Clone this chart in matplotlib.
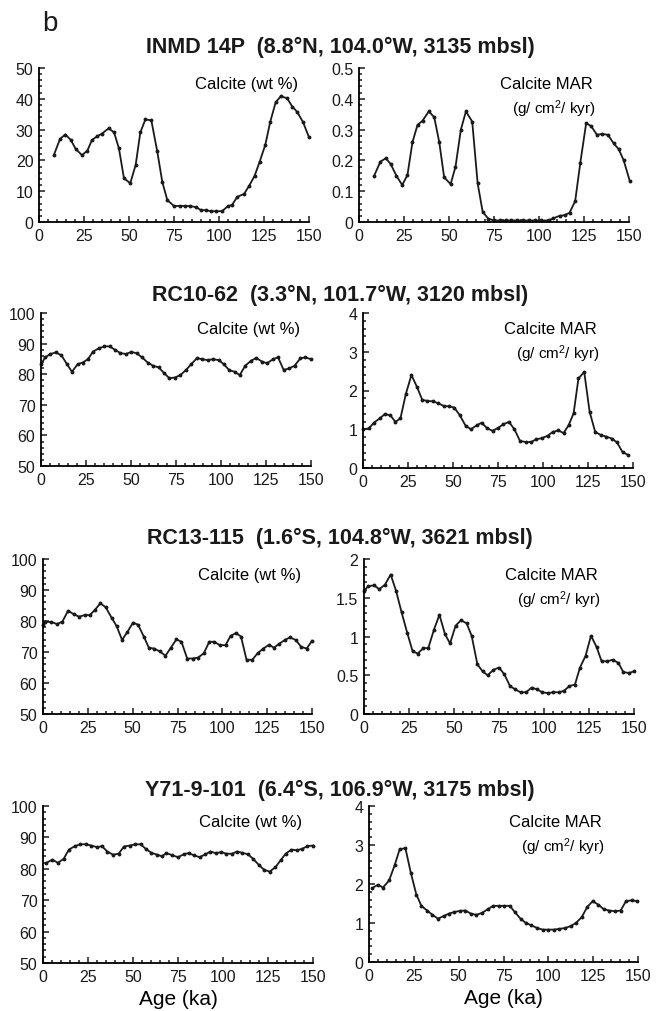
import numpy as np
import matplotlib.pyplot as plt
from matplotlib.ticker import MultipleLocator, FormatStrFormatter

plt.rcParams['font.family'] = ['Liberation Sans', 'DejaVu Sans']
plt.rcParams['mathtext.default'] = 'regular'

# ---- data: age (ka) and values ----
inmd_wt_age = [8.3, 11.7, 14.6, 17.6, 20.4, 23.9, 26.9, 29.4, 32.2, 35, 38.7, 41.7, 44.4, 47.2, 50.7,
               53.7, 56.3, 59.1, 62.4, 65.7, 68.5, 71.3, 75, 78.1, 80.9, 83.7, 87.4, 89.8, 93, 95.7,
               98.5, 101.7, 105, 107.2, 110.2, 113.9, 116.7, 119.8, 122.6, 125.7, 128.5, 131.5,
               134.3, 137.8, 140.7, 143.5, 146.7, 150]
inmd_wt = [21.8, 27, 28.4, 26.7, 23.7, 21.7, 23.2, 26.6, 27.8, 28.7, 30.4, 29.1, 23.9, 14.2, 12.6,
           18.5, 29.1, 33.3, 33, 22.9, 13, 7.1, 5.2, 5.2, 5.2, 5.2, 4.8, 3.9, 3.8, 3.5,
           3.5, 3.5, 5.2, 5.5, 8.2, 9.1, 11.7, 15, 19.6, 25, 32.6, 38.9,
           40.8, 40.2, 37.5, 35.7, 32.4, 27.5]

inmd_mar_age = [8.4, 11.9, 14.9, 17.6, 20.8, 24, 26.9, 29.7, 32.5, 35.3, 38.8, 41.8, 44.6, 47.3, 50.9,
                53.6, 56.6, 59.4, 62.9, 65.9, 68.7, 71.8, 75, 78.3, 81.5, 84.7, 88, 91.2, 94.5, 97.7,
                101, 105.3, 108, 111.4, 114.2, 117, 120.1, 122.9, 126.2, 129, 132.2, 135, 138.3,
                141.5, 144.2, 147, 150.4]
inmd_mar = [0.150, 0.196, 0.207, 0.188, 0.150, 0.120, 0.152, 0.259, 0.315, 0.329, 0.359, 0.340, 0.259,
            0.145, 0.123, 0.179, 0.300, 0.359, 0.326, 0.126, 0.033, 0.011, 0.005, 0.005, 0.005, 0.005,
            0.005, 0.005, 0.005, 0.005, 0.005, 0.005, 0.012, 0.020, 0.022, 0.030, 0.068, 0.190, 0.321,
            0.311, 0.283, 0.286, 0.283, 0.255, 0.237, 0.201, 0.134]

rc1062_wt_age = [0, 2.4, 5.2, 8.3, 11.3, 14.4, 17.2, 20.4, 23.1, 26.1, 28.9, 32, 35.2, 38.1, 41.3,
                 44.1, 47.2, 50.2, 53.3, 56.1, 59.3, 62.2, 65.4, 68.5, 71.3, 74.3, 77.4, 80.6, 83.5,
                 86.7, 89.4, 92.6, 95.6, 98.7, 101.5, 104.6, 107.6, 110.4, 113.5, 116.7, 119.6,
                 122.8, 125.6, 128.9, 131.7, 134.8, 138, 140.9, 144.1, 146.9, 150]
rc1062_wt = [83.3, 85.5, 86.6, 87.1, 86.2, 83.3, 80.8, 83.3, 83.8, 84.9, 87.4, 88.4, 89.1, 89.1, 87.9,
             86.9, 86.6, 87.3, 86.8, 85.5, 83.8, 82.8, 82.2, 80.3, 78.7, 78.9, 79.7, 81.4, 83.3,
             85.3, 84.9, 84.6, 84.9, 84.6, 83.3, 81.3, 80.8, 79.7, 82.8, 84.4, 85.3,
             84.1, 83.6, 84.9, 85.5, 81.4, 81.9, 82.8, 85.2, 85.5, 84.9]

rc1062_mar_age = [0, 3.2, 6.1, 9.3, 12.1, 15.2, 18, 20.8, 23.8, 26.9, 30.1, 32.9, 35.8, 39, 41.8, 44.9,
                  47.9, 50.7, 53.8, 57, 60, 63.1, 65.9, 69.1, 72, 75.2, 78, 81.1, 84.1, 87.2, 90.4,
                  93.4, 96.2, 99.3, 102.5, 105.4, 108.6, 111.4, 114.2, 117, 119.7, 122.9, 125.9,
                  129, 132.2, 135.1, 138.3, 141.1, 144.2, 147.2]
rc1062_mar = [1.0, 1.02, 1.17, 1.28, 1.39, 1.36, 1.19, 1.28, 1.91, 2.40, 2.08, 1.76, 1.73, 1.72, 1.67,
              1.60, 1.59, 1.56, 1.36, 1.09, 1.0, 1.10, 1.17, 1.02, 0.96, 1.04, 1.13, 1.19, 1.0, 0.70,
              0.67, 0.67, 0.74, 0.77, 0.83, 0.93, 0.97, 0.90, 1.10, 1.41, 2.31, 2.48, 1.45,
              0.93, 0.85, 0.81, 0.76, 0.66, 0.41, 0.34]

rc13115_wt_age = [0, 1.3, 4.7, 7.8, 10.8, 14, 17.1, 20.1, 23.3, 26.1, 28.8, 32, 35, 38.2, 41, 44.1,
                  47.1, 50.2, 53, 56.2, 59, 62, 65.1, 68.3, 71.3, 74.4, 77.2, 80.4, 83.4, 86.5, 89.7,
                  92.7, 95.5, 98.6, 101.8, 104.6, 107.6, 110.4, 113.5, 116.7, 119.7, 122.8, 126,
                  128.8, 131.8, 134.9, 137.7, 140.9, 143.9, 147, 150]
rc13115_wt = [78.7, 79.7, 79.7, 79, 79.8, 83.3, 82.2, 81.4, 81.9, 81.9, 83.5, 85.7, 84.4, 81.1, 78.4,
              73.9, 76.5, 79.5, 78.8, 75, 71.4, 71.1, 70.2, 68.8, 71.4, 74.1, 73.3, 67.9, 67.9, 68.2,
              69.6, 73.3, 73.3, 72.2, 72.2, 75.2, 76.1, 75, 67.5, 67.5, 69.6, 71.1, 72.3,
              71.4, 72.7, 73.9, 74.7, 73.9, 71.7, 71.1, 73.6]

rc13115_mar_age = [0, 2.4, 5.6, 8.5, 11.7, 14.8, 17.8, 20.9, 24.1, 27, 29.8, 33, 35.7, 38.9, 41.9, 45,
                   47.8, 50.9, 53.9, 57, 59.8, 63, 65.9, 68.7, 71.9, 75, 78, 81.1, 83.9, 87, 90,
                   93.1, 95.9, 99.1, 102, 105.2, 108.3, 111.1, 114.1, 117.2, 120, 123.1, 126.1,
                   129.3, 132, 135.2, 138.1, 141.3, 144.1, 147.2, 150]
rc13115_mar = [1.59, 1.65, 1.66, 1.61, 1.67, 1.80, 1.59, 1.31, 1.04, 0.81, 0.78, 0.85, 0.85, 1.09, 1.28,
               1.03, 0.91, 1.14, 1.21, 1.17, 1.01, 0.64, 0.55, 0.50, 0.57, 0.60, 0.51, 0.36, 0.32,
               0.28, 0.28, 0.34, 0.32, 0.28, 0.27, 0.28, 0.28, 0.30, 0.36, 0.38, 0.60, 0.75, 1.01,
               0.86, 0.68, 0.68, 0.70, 0.66, 0.54, 0.53, 0.55]

y71_wt_age = [1.9, 5.2, 8.3, 11.5, 14.4, 17.6, 20.7, 23.7, 26.9, 30, 32.8, 35.7, 38.9, 42, 45, 48.1,
              51.3, 54.3, 57, 60.2, 63.3, 66.1, 68.5, 71.9, 75, 78.1, 80.9, 83.9, 87, 90.2, 93,
              95.9, 99.1, 101.9, 105, 107.8, 110.7, 113.9, 116.7, 119.8, 122.8, 125.9, 129.1,
              132, 134.8, 138, 141.1, 144.1, 146.9, 150]
y71_wt = [81.9, 82.9, 81.9, 83.2, 86.1, 87.2, 87.8, 87.8, 87.4, 86.9, 87.2, 85.5, 84.5, 84.8, 87.1,
          87.4, 87.8, 87.8, 86.4, 85.1, 84.5, 84, 85, 84.3, 83.7, 84.6, 85, 84.3, 83.7, 84.6, 85.5,
          85, 85.3, 84.8, 84.8, 85.5, 85.1, 84.6, 83.2, 81.3, 79.7, 79.1, 80.5,
          82.7, 84.8, 86.1, 85.9, 86.4, 87.2, 87.4]

y71_mar_age = [1.9, 5, 7.8, 11.2, 14.3, 17.1, 20.3, 23.3, 26.4, 29.2, 32.4, 35.4, 38.5, 41.7, 44.5,
               47.5, 50.6, 53.8, 56.8, 59.9, 63.1, 66.1, 69.2, 72.4, 75.4, 78.5, 81.3, 84.5, 87.5,
               90.6, 93.8, 96.8, 99.9, 103.1, 106.1, 109.3, 112.4, 115.4, 118.6, 121.7, 124.7,
               127.9, 131, 134, 137.2, 140.3, 143.3, 146.5, 149.3]
y71_mar = [1.90, 1.98, 1.91, 2.09, 2.48, 2.89, 2.92, 2.29, 1.73, 1.44, 1.32, 1.21, 1.11, 1.18, 1.24,
           1.28, 1.31, 1.32, 1.24, 1.21, 1.26, 1.35, 1.44, 1.44, 1.44, 1.44, 1.28, 1.11, 1.00,
           0.94, 0.87, 0.83, 0.83, 0.83, 0.85, 0.87, 0.92, 1.00, 1.15, 1.41, 1.56,
           1.47, 1.35, 1.32, 1.30, 1.32, 1.56, 1.58, 1.56]

titles = ['INMD 14P  (8.8\u00b0N, 104.0\u00b0W, 3135 mbsl)',
          'RC10-62  (3.3\u00b0N, 101.7\u00b0W, 3120 mbsl)',
          'RC13-115  (1.6\u00b0S, 104.8\u00b0W, 3621 mbsl)',
          'Y71-9-101  (6.4\u00b0S, 106.9\u00b0W, 3175 mbsl)']
wt_series = [(inmd_wt_age, inmd_wt), (rc1062_wt_age, rc1062_wt),
             (rc13115_wt_age, rc13115_wt), (y71_wt_age, y71_wt)]
mar_series = [(inmd_mar_age, inmd_mar), (rc1062_mar_age, rc1062_mar),
              (rc13115_mar_age, rc13115_mar), (y71_mar_age, y71_mar)]

wt_ylim = [(0, 50), (50, 100), (50, 100), (50, 100)]
mar_ylim = [(0, 0.5), (0, 4), (0, 2), (0, 4)]
mar_major = [0.1, 1, 0.5, 1]

W, H = 662, 1012
# axes boxes in pixels: (left, right, top, bottom)
left_px = [(39, 309, 69, 223), (41, 311, 314, 467), (43, 312, 560, 715), (43, 313, 807, 964)]
right_px = [(359, 629, 69, 223), (363, 633, 314, 469), (364, 634, 560, 715), (369, 638, 807, 963)]
title_y = [47, 295, 538, 790]

fig = plt.figure(figsize=(W / 100, H / 100), dpi=100)


def make_ax(box):
    l, r, t, b = box
    ax = fig.add_axes([l / W, 1 - b / H, (r - l) / W, (b - t) / H])
    ax.spines['top'].set_visible(False)
    ax.spines['right'].set_visible(False)
    ax.spines['left'].set_linewidth(1.3)
    ax.spines['bottom'].set_linewidth(1.3)
    ax.set_xlim(0, 150)
    ax.xaxis.set_major_locator(MultipleLocator(25))
    ax.xaxis.set_minor_locator(MultipleLocator(5))
    ax.tick_params(which='both', direction='in', width=1.1, labelsize=11.5, colors='#1a1a1a')
    ax.tick_params(axis='y', which='major', length=4, pad=4)
    ax.tick_params(axis='y', which='minor', length=2.5)
    ax.tick_params(axis='x', which='major', length=4, pad=4)
    ax.tick_params(axis='x', which='minor', length=2.5)
    ax.yaxis.set_major_formatter(FormatStrFormatter('%g'))
    ax.patch.set_alpha(0)
    return ax


for i in range(4):
    ax = make_ax(left_px[i])
    x, y = wt_series[i]
    ax.plot(x, y, color='#1a1a1a', lw=1.3, marker='o', ms=1.8, clip_on=False)
    ax.set_ylim(*wt_ylim[i])
    ax.yaxis.set_major_locator(MultipleLocator(10))
    ax.yaxis.set_minor_locator(MultipleLocator(2))
    ax.text(0.96, 0.9, 'Calcite (wt %)', transform=ax.transAxes, ha='right', va='center', fontsize=12)
    if i == 3:
        ax.set_xlabel('Age (ka)', fontsize=15, labelpad=4)

    ax2 = make_ax(right_px[i])
    x, y = mar_series[i]
    ax2.plot(x, y, color='#1a1a1a', lw=1.3, marker='o', ms=1.8, clip_on=False)
    ax2.set_ylim(*mar_ylim[i])
    ax2.yaxis.set_major_locator(MultipleLocator(mar_major[i]))
    ax2.yaxis.set_minor_locator(MultipleLocator(mar_major[i] / 5))
    ax2.text(0.867, 0.9, 'Calcite MAR', transform=ax2.transAxes, ha='right', va='center', fontsize=12)
    ax2.text(0.877, 0.74, '(g/ cm$^{2}$/ kyr)', transform=ax2.transAxes, ha='right', va='center',
             fontsize=11)
    if i == 3:
        ax2.set_xlabel('Age (ka)', fontsize=15, labelpad=4)

    fig.text(340 / W, 1 - title_y[i] / H, titles[i], ha='center', va='center',
             fontsize=15.5, fontweight='bold', color='#1a1a1a')

fig.text(42 / W, 1 - 24 / H, 'b', ha='left', va='center', fontsize=20, color='#1a1a1a')

fig.savefig('out.png', dpi=100)
